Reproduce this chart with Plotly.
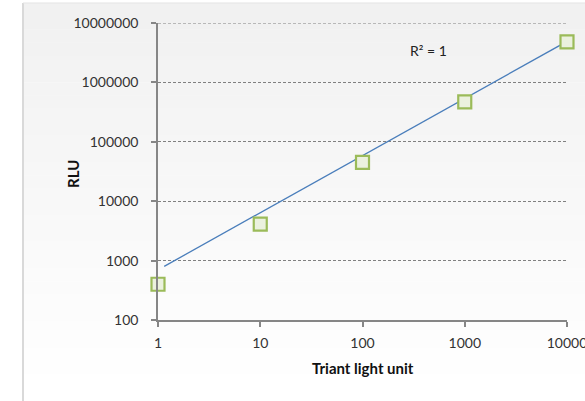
import plotly.graph_objects as go

# Data
x_vals = [1, 10, 100, 1000, 10000]
rlu_vals = [400, 4100, 45000, 470000, 4800000]

# Fitted power trendline (as displayed in the reference)
trend_x = [1.15, 10000]
trend_y = [800, 4900000]

x_ticks = [1, 10, 100, 1000, 10000]
x_tick_text = ["1", "10", "100", "1000", "10000"]
y_ticks = [100, 1000, 10000, 100000, 1000000, 10000000]
y_tick_text = ["100", "1000", "10000", "100000", "1000000", "10000000"]

r2_text = "R² = 1"
x_title = "Triant light unit"
y_title = "RLU"

FONT = "Lato"
AXIS_COL = "#868686"

fig = go.Figure()

fig.add_trace(go.Scatter(
    x=trend_x, y=trend_y, mode="lines",
    line=dict(color="#4a7ebb", width=1.3),
    hoverinfo="skip", showlegend=False, cliponaxis=False,
))
fig.add_trace(go.Scatter(
    x=x_vals, y=rlu_vals, mode="markers",
    marker=dict(symbol="square", size=13, color="#ebf1de",
                line=dict(color="#9bbb59", width=2.2)),
    showlegend=False, cliponaxis=False,
))

W, H = 585, 401
PL, PR, PT, PB = 158, 567, 23, 320


def px(x):
    return (x - PL) / (PR - PL)


def py(y):
    return (PB - y) / (PB - PT)


# background panel with vertical gradient (stacked bands)
shapes = []
x0p, y0p = 23, 3
n = 30
top_c = 241
bot_c = 255
for i in range(n):
    ya = y0p + (H - y0p) * i / n
    yb = y0p + (H - y0p) * (i + 1) / n
    c = round(top_c + (bot_c - top_c) * (i / (n - 1)))
    shapes.append(dict(
        type="rect", xref="paper", yref="paper", layer="below",
        x0=px(x0p), x1=1.2, y0=py(yb), y1=py(ya) + 0.001,
        fillcolor=f"rgb({c},{c},{c})", line=dict(width=0),
    ))
shapes.append(dict(
    type="line", xref="paper", yref="paper", layer="below",
    x0=px(x0p), x1=px(x0p), y0=py(H), y1=py(y0p),
    line=dict(color="#d9d9d9", width=2),
))
shapes.append(dict(
    type="line", xref="paper", yref="paper", layer="below",
    x0=px(x0p), x1=1.2, y0=py(y0p), y1=py(y0p),
    line=dict(color="#e6e6e6", width=1),
))
# top gridline (at the top edge of the range)
shapes.append(dict(
    type="line", xref="paper", yref="y", layer="below",
    x0=0, x1=1, y0=y_ticks[-1], y1=y_ticks[-1],
    line=dict(color="#808080", width=1, dash="3px,2px"),
))

fig.update_layout(
    width=W, height=H,
    margin=dict(l=PL, r=W - PR, t=PT, b=H - PB),
    paper_bgcolor="white",
    plot_bgcolor="rgba(0,0,0,0)",
    font=dict(family=FONT, size=14, color="#333333"),
    shapes=shapes,
    showlegend=False,
    annotations=[
        dict(text=r2_text, x=px(428), y=py(50), xref="paper", yref="paper",
             showarrow=False, font=dict(family=FONT, size=14, color="#222"),
             xanchor="center", yanchor="middle"),
        dict(text=f"<b>{x_title}</b>", x=0.5, y=py(368),
             xref="paper", yref="paper", showarrow=False,
             font=dict(family=FONT, size=15, color="#111"),
             xanchor="center", yanchor="middle"),
        dict(text=f"<b>{y_title}</b>", x=px(73), y=py(174),
             xref="paper", yref="paper", showarrow=False, textangle=-90,
             font=dict(family=FONT, size=15, color="#111"),
             xanchor="center", yanchor="middle"),
    ],
)

fig.update_xaxes(
    type="log", range=[0, 4],
    tickvals=x_ticks, ticktext=x_tick_text,
    showline=True, linecolor=AXIS_COL, linewidth=1.5,
    ticks="outside", ticklen=5, tickcolor=AXIS_COL, tickwidth=1.5,
    showgrid=False, zeroline=False, ticklabelstandoff=4,
    ticklabeloverflow="allow", automargin=False,
)
fig.update_yaxes(
    type="log", range=[2, 7],
    tickvals=y_ticks, ticktext=y_tick_text,
    showline=True, linecolor=AXIS_COL, linewidth=1.5,
    ticks="outside", ticklen=5, tickcolor=AXIS_COL, tickwidth=1.5,
    showgrid=True, gridcolor="#808080", gridwidth=1, griddash="3px,2px",
    zeroline=False, ticklabelstandoff=10, automargin=False,
)

fig.write_html("out.html")
